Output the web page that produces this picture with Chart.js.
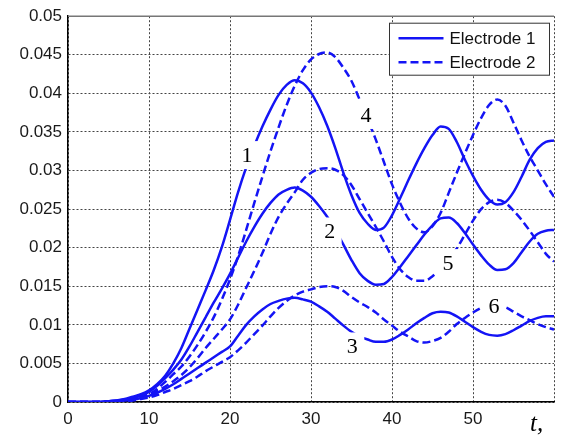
<!DOCTYPE html>
<html>
<head>
<meta charset="utf-8">
<script src="https://cdn.jsdelivr.net/npm/chart.js@4.4.1/dist/chart.umd.min.js"></script>
<style>
  html, body { margin: 0; padding: 0; background: #fff; }
  #wrap { position: relative; width: 561px; height: 438px; }
</style>
</head>
<body>
<div id="wrap"><canvas id="chart"></canvas></div>
<script>
// ─── DATA ───
const t = [0,1,2,3,4,5,6,7,8,9,10,11,12,13,14,15,16,17,18,19,20,21,22,23,24,25,26,27,28,29,30,
           31,32,33,34,35,36,37,38,39,40,41,42,43,44,45,46,47,48,49,50,51,52,53,54,55,56,57,58,59,60];

// Electrode 1 (solid): curves 1, 2, 3
const curve1 = [0,0,0,0,0,0.0001,0.0002,0.0004,0.0007,0.001,0.0015,0.0023,0.0034,0.005,0.007,0.0095,0.012,0.0145,0.0171,0.0201,
                0.0236,0.0272,0.0304,0.0332,0.0357,0.0379,0.0398,0.0411,0.0417,0.0413,0.0401,0.0382,0.0358,0.0329,0.0297,0.0268,
                0.0245,0.0231,0.0223,0.0226,0.0242,0.0264,0.0287,0.0309,0.0329,0.0346,0.0357,0.0354,0.0337,0.0314,0.0293,0.0275,
                0.0262,0.0256,0.0259,0.0272,0.0292,0.0314,0.0329,0.0337,0.0339];
const curve2 = [0,0,0,0,0,0.0001,0.0002,0.0003,0.0005,0.0008,0.0013,0.0021,0.0031,0.0042,0.0055,0.0072,0.0091,0.011,0.0129,0.0147,
                0.0166,0.0187,0.0208,0.0227,0.0244,0.0258,0.0269,0.0275,0.0278,0.0274,0.0266,0.0254,0.024,0.0223,0.0204,0.0184,
                0.0167,0.0157,0.0152,0.0153,0.0162,0.0175,0.0189,0.0203,0.0217,0.0229,0.0238,0.0239,0.0232,0.0219,0.0204,0.019,
                0.0178,0.0171,0.0172,0.018,0.0194,0.0208,0.0218,0.0222,0.0223];
const curve3 = [0,0,0,0,0,0.00005,0.0001,0.0002,0.0003,0.0005,0.0008,0.0012,0.0017,0.0023,0.003,0.0037,0.0044,0.0051,0.0058,0.0065,
                0.0072,0.0086,0.01,0.0111,0.012,0.0127,0.0131,0.0134,0.0135,0.0133,0.013,0.0124,0.0117,0.0108,0.0099,0.0091,
                0.0085,0.0081,0.0078,0.0078,0.0081,0.0087,0.0094,0.0102,0.0109,0.0115,0.0117,0.0116,0.0111,0.0104,0.0097,0.0091,
                0.0087,0.0086,0.0088,0.0093,0.0099,0.0105,0.0109,0.0111,0.0111];

// Electrode 2 (dashed): curves 4, 5, 6
const curve4 = [0,0,0,0,0,0.00005,0.0001,0.0002,0.0004,0.0007,0.001,0.0017,0.0026,0.0036,0.0046,0.0059,0.0074,0.0091,0.011,0.0133,
                0.0159,0.0189,0.0223,0.0258,0.0292,0.0325,0.0356,0.0385,0.041,0.043,0.0444,0.0451,0.0453,0.0447,0.0433,0.0416,
                0.0392,0.0366,0.034,0.0311,0.0282,0.0258,0.0238,0.0225,0.022,0.0228,0.0245,0.0271,0.0297,0.0322,0.0346,0.0368,
                0.0385,0.0392,0.0384,0.0362,0.0339,0.0318,0.03,0.0282,0.0266];
const curve5 = [0,0,0,0,0,0.00005,0.0001,0.0002,0.0003,0.0006,0.0009,0.0014,0.002,0.0027,0.0035,0.0045,0.0057,0.007,0.0082,0.0094,
                0.0107,0.0126,0.0148,0.017,0.0193,0.0218,0.024,0.0257,0.0272,0.0288,0.0297,0.0302,0.0303,0.0301,0.0294,0.0281,
                0.0263,0.0245,0.0227,0.0208,0.0188,0.0172,0.0162,0.0157,0.0157,0.0163,0.0173,0.0186,0.0199,0.0217,0.0235,0.025,
                0.0259,0.0262,0.0258,0.0248,0.0236,0.0222,0.0207,0.0192,0.0182];
const curve6 = [0,0,0,0,0,0.00003,0.0001,0.0001,0.0002,0.0004,0.0006,0.0009,0.0013,0.0017,0.0022,0.0027,0.0033,0.004,0.0046,0.0052,
                0.0058,0.0067,0.0077,0.0088,0.0099,0.0111,0.0122,0.0131,0.0138,0.0143,0.0146,0.0149,0.015,0.0149,0.0144,0.0136,
                0.0129,0.0123,0.0116,0.0107,0.0099,0.0091,0.0085,0.0079,0.0077,0.0079,0.0083,0.0091,0.0101,0.0109,0.0116,0.0122,
                0.0126,0.0126,0.0123,0.0117,0.0111,0.0106,0.0101,0.0097,0.0094];

const legendNames = ['Electrode 1', 'Electrode 2'];

// curve numbers written on the plot (data coordinates)
const curveLabels = [
    { text: '1', x: 22.1, y: 0.032 },
    { text: '2', x: 32.3, y: 0.0221 },
    { text: '3', x: 35.1, y: 0.0072 },
    { text: '4', x: 36.8, y: 0.0372 },
    { text: '5', x: 46.9, y: 0.018 },
    { text: '6', x: 52.6, y: 0.0124 }
];

// ─── STYLE ───
const BLUE = '#1414f5';
const SANS = '"Liberation Sans", Arial, sans-serif';
const SERIF = '"Liberation Serif", "Times New Roman", serif';

const toPoints = arr => t.map((x, i) => ({ x: x, y: arr[i] }));

function series(arr, dashed) {
    return {
        data: toPoints(arr),
        borderColor: BLUE,
        borderWidth: 2.5,
        borderDash: dashed ? [8, 4] : [],
        fill: false,
        pointRadius: 0,
        cubicInterpolationMode: 'monotone'
    };
}

// ─── OVERLAY: labels, legend box, frame top, axis name ───
const overlay = {
    id: 'overlay',
    afterDraw(chart) {
        const { ctx, chartArea: a, scales: { x, y } } = chart;
        ctx.save();

        ctx.strokeStyle = '#777';
        ctx.lineWidth = 1.5;
        ctx.beginPath();
        ctx.moveTo(a.left, a.top);
        ctx.lineTo(a.right, a.top);
        ctx.stroke();

        ctx.font = '22px ' + SERIF;
        ctx.textAlign = 'center';
        ctx.textBaseline = 'middle';
        curveLabels.forEach(l => {
            const px = x.getPixelForValue(l.x);
            const py = y.getPixelForValue(l.y);
            ctx.fillStyle = '#fff';
            ctx.fillRect(px - 12, py - 14, 24, 28);
            ctx.fillStyle = '#000';
            ctx.fillText(l.text, px, py + 1);
        });

        // legend
        const bx = a.right - 164.5, by = a.top + 7, bw = 160, bh = 52;
        ctx.fillStyle = '#fff';
        ctx.fillRect(bx, by, bw, bh);
        ctx.strokeStyle = '#333';
        ctx.lineWidth = 1;
        ctx.strokeRect(bx, by, bw, bh);
        ctx.font = '17px ' + SANS;
        ctx.textAlign = 'left';
        legendNames.forEach((name, i) => {
            const ly = by + 15 + i * 24;
            ctx.strokeStyle = BLUE;
            ctx.lineWidth = 2.5;
            ctx.setLineDash(i === 0 ? [] : [8, 4]);
            ctx.beginPath();
            ctx.moveTo(bx + 9, ly);
            ctx.lineTo(bx + 54, ly);
            ctx.stroke();
            ctx.setLineDash([]);
            ctx.fillStyle = '#111';
            ctx.fillText(name, bx + 60, ly + 1);
        });

        // axis name
        ctx.font = 'italic 25px ' + SERIF;
        ctx.fillStyle = '#000';
        ctx.textBaseline = 'alphabetic';
        ctx.fillText('t,', 530, 431);

        ctx.restore();
    }
};

// ─── CHART ───
new Chart(document.getElementById('chart').getContext('2d'), {
    type: 'line',
    data: {
        datasets: [
            series(curve1, false),
            series(curve2, false),
            series(curve3, false),
            series(curve4, true),
            series(curve5, true),
            series(curve6, true)
        ]
    },
    options: {
        responsive: true,
        maintainAspectRatio: false,
        animation: false,
        layout: { padding: { top: 15, right: 0, left: 0, bottom: 0 } },
        plugins: { legend: { display: false }, tooltip: { enabled: false } },
        scales: {
            x: {
                type: 'linear',
                min: 0,
                max: 60,
                afterFit: s => { s.height = 36; },
                ticks: {
                    stepSize: 10,
                    padding: 7,
                    maxRotation: 0,
                    color: '#1a1a1a',
                    font: { family: SANS, size: 17 },
                    callback: v => (v === 60 ? '' : String(v))
                },
                grid: { color: '#444', lineWidth: 1, drawTicks: false },
                border: { color: '#000', width: 1.5, dash: [2, 2] }
            },
            y: {
                min: 0,
                max: 0.05,
                afterFit: s => { s.width = 68; },
                ticks: {
                    stepSize: 0.005,
                    padding: 6,
                    color: '#1a1a1a',
                    font: { family: SANS, size: 17 },
                    callback: v => (v === 0 ? '0' : String(+v.toFixed(3)))
                },
                grid: { color: '#444', lineWidth: 1, drawTicks: false },
                border: { color: '#000', width: 1.5, dash: [2, 2] }
            }
        }
    },
    plugins: [overlay]
});
</script>
</body>
</html>
